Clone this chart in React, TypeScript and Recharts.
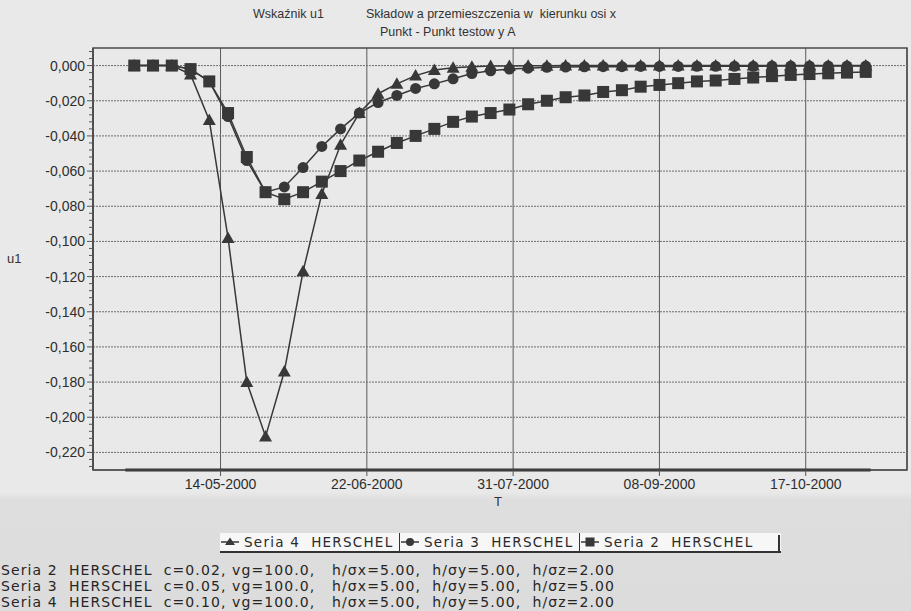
import React from 'react';
import {
  LineChart,
  Line,
  XAxis,
  YAxis,
  CartesianGrid,
  ReferenceLine,
  ReferenceArea,
} from 'recharts';

// sample dates, every 5 days
const pointDates = [
  '21-04-2000', '26-04-2000', '01-05-2000', '06-05-2000', '11-05-2000',
  '16-05-2000', '21-05-2000', '26-05-2000', '31-05-2000', '05-06-2000',
  '10-06-2000', '15-06-2000', '20-06-2000', '25-06-2000', '30-06-2000',
  '05-07-2000', '10-07-2000', '15-07-2000', '20-07-2000', '25-07-2000',
  '30-07-2000', '04-08-2000', '09-08-2000', '14-08-2000', '19-08-2000',
  '24-08-2000', '29-08-2000', '03-09-2000', '08-09-2000', '13-09-2000',
  '18-09-2000', '23-09-2000', '28-09-2000', '03-10-2000', '08-10-2000',
  '13-10-2000', '18-10-2000', '23-10-2000', '28-10-2000', '02-11-2000',
];

// Seria 2 HERSCHEL (squares)
const seria2 = [
  0, 0, 0, -0.002, -0.009, -0.027, -0.052, -0.072, -0.076, -0.072,
  -0.066, -0.06, -0.054, -0.049, -0.044, -0.04, -0.036, -0.032, -0.029, -0.027,
  -0.025, -0.022, -0.02, -0.018, -0.017, -0.015, -0.014, -0.012, -0.011, -0.01,
  -0.009, -0.0085, -0.0076, -0.0068, -0.006, -0.0053, -0.0048, -0.0044, -0.004, -0.0036,
];

// Seria 3 HERSCHEL (circles)
const seria3 = [
  0, 0, 0, -0.002, -0.009, -0.029, -0.054, -0.072, -0.069, -0.058,
  -0.046, -0.036, -0.027, -0.021, -0.017, -0.013, -0.0104, -0.0075, -0.0045, -0.003,
  -0.002, -0.0015, -0.001, -0.0008, -0.0007, -0.0006, -0.0006, -0.0005, -0.0005, -0.0005,
  -0.0004, -0.0004, -0.0004, -0.0004, -0.0003, -0.0003, -0.0003, -0.0003, -0.0003, -0.0003,
];

// Seria 4 HERSCHEL (triangles)
const seria4 = [
  0, 0, 0, -0.005, -0.031, -0.098, -0.18, -0.211, -0.174, -0.117,
  -0.073, -0.045, -0.027, -0.016, -0.0104, -0.0057, -0.0025, -0.0013, -0.0006, -0.0003,
  -0.0002, -0.0001, -0.0001, 0, 0, 0, 0, 0, 0, 0,
  0, 0, 0, 0, 0, 0, 0, 0, 0, 0,
];

const xTickLabels = ['14-05-2000', '22-06-2000', '31-07-2000', '08-09-2000', '17-10-2000'];
const yTicks = [0, -0.02, -0.04, -0.06, -0.08, -0.1, -0.12, -0.14, -0.16, -0.18, -0.2, -0.22];

const noteLines = [
  'Seria 2  HERSCHEL  c=0.02, vg=100.0,   h/σx=5.00,  h/σy=5.00,  h/σz=2.00',
  'Seria 3  HERSCHEL  c=0.05, vg=100.0,   h/σx=5.00,  h/σy=5.00,  h/σz=5.00',
  'Seria 4  HERSCHEL  c=0.10, vg=100.0,   h/σx=5.00,  h/σy=5.00,  h/σz=2.00',
];

const BASE = Date.UTC(2000, 4, 14);
const dayOf = (s: string) => {
  const [d, m, y] = s.split('-').map(Number);
  return (Date.UTC(y, m - 1, d) - BASE) / 86400000;
};

const data = pointDates.map((d, i) => ({
  t: dayOf(d),
  s2: seria2[i],
  s3: seria3[i],
  s4: seria4[i],
}));

const xTicks = xTickLabels.map(dayOf);
const labelOf: Record<number, string> = {};
xTickLabels.forEach((l) => (labelOf[dayOf(l)] = l));

const X_DOMAIN = [-34, 183];
const Y_DOMAIN = [-0.23, 0.01];

// minor ticks on the value axis every 0.004
const minorTicks: number[] = [];
for (let i = 2; i >= -57; i--) minorTicks.push(Math.round(i * 0.004 * 1000) / 1000);

const INK = '#383838';
const AXIS_FONT = '"Liberation Sans", Arial, sans-serif';
const NOTE_FONT = '"DejaVu Sans", Verdana, sans-serif';

const fmt = (v: number) => v.toFixed(3).replace('.', ',').replace('-0,000', '0,000');

const SquareDot = (p: any) => {
  if (p.cx == null || p.cy == null) return <g key={p.key} />;
  return <rect key={p.key} x={p.cx - 6} y={p.cy - 6} width={12} height={12} fill={INK} />;
};
const CircleDot = (p: any) => {
  if (p.cx == null || p.cy == null) return <g key={p.key} />;
  return <circle key={p.key} cx={p.cx} cy={p.cy} r={5.5} fill={INK} />;
};
const TriangleDot = (p: any) => {
  if (p.cx == null || p.cy == null) return <g key={p.key} />;
  const { cx, cy } = p;
  return (
    <polygon
      key={p.key}
      points={`${cx},${cy - 6.5} ${cx + 6.5},${cy + 5} ${cx - 6.5},${cy + 5}`}
      fill={INK}
    />
  );
};

const YTick = (p: any) => {
  const { x, y, payload } = p;
  const v = payload.value;
  const major = Math.abs(v / 0.02 - Math.round(v / 0.02)) < 1e-6;
  return (
    <g>
      <line x1={x - (major ? 6 : 4)} x2={x} y1={y} y2={y} stroke="#555" strokeWidth={1} />
      {major && (
        <text
          x={x - 8}
          y={y}
          dy={5}
          textAnchor="end"
          fontFamily={AXIS_FONT}
          fontSize={14}
          fill="#2e2e2e"
        >
          {fmt(v)}
        </text>
      )}
    </g>
  );
};

const LegendGlyph = ({ kind }: { kind: 'tri' | 'circ' | 'sq' }) => (
  <svg width={20} height={12} style={{ display: 'block' }}>
    <line x1={1} x2={19} y1={6} y2={6} stroke={INK} strokeWidth={1.5} />
    {kind === 'tri' && <polygon points="10,1.5 15,9 5,9" fill={INK} />}
    {kind === 'circ' && <circle cx={10} cy={6} r={4} fill={INK} />}
    {kind === 'sq' && <rect x={5.5} y={1.5} width={9} height={9} fill={INK} />}
  </svg>
);

const legendItems: { kind: 'tri' | 'circ' | 'sq'; name: string }[] = [
  { kind: 'tri', name: 'Seria 4  HERSCHEL' },
  { kind: 'circ', name: 'Seria 3  HERSCHEL' },
  { kind: 'sq', name: 'Seria 2  HERSCHEL' },
];

export default function App() {
  const textStyle: React.CSSProperties = {
    position: 'absolute',
    fontFamily: AXIS_FONT,
    color: '#333',
    whiteSpace: 'pre',
    lineHeight: 1,
  };

  return (
    <div
      style={{
        position: 'absolute',
        left: 0,
        top: 0,
        width: 911,
        height: 611,
        overflow: 'hidden',
        background: 'linear-gradient(#e9e9e9 0px, #e9e9e9 492px, #dedede 500px, #dcdcdc 611px)',
      }}
    >
      <LineChart
        width={911}
        height={611}
        data={data}
        margin={{ top: 48, right: 4, bottom: 0, left: 0 }}
      >
        <CartesianGrid horizontal={false} stroke="#5a5a5a" strokeWidth={1} />
        {yTicks.map((v) => (
          <ReferenceLine
            key={v}
            y={v}
            stroke="#6e6e6e"
            strokeDasharray="2 1"
            strokeWidth={1}
          />
        ))}
        <ReferenceArea
          x1={X_DOMAIN[0]}
          x2={X_DOMAIN[1]}
          y1={Y_DOMAIN[0]}
          y2={Y_DOMAIN[1]}
          fill="none"
          fillOpacity={0}
          stroke="#4a4a4a"
          strokeWidth={1.5}
        />
        <ReferenceLine
          segment={[
            { x: data[0].t - 2.4, y: Y_DOMAIN[0] },
            { x: data[data.length - 1].t + 1.3, y: Y_DOMAIN[0] },
          ]}
          stroke="#333"
          strokeWidth={3}
        />
        <XAxis
          type="number"
          dataKey="t"
          domain={X_DOMAIN}
          ticks={xTicks}
          interval={0}
          allowDataOverflow
          height={141}
          tickSize={6}
          tickMargin={3}
          tickFormatter={(v: number) => labelOf[v] ?? ''}
          axisLine={{ stroke: '#4a4a4a' }}
          tickLine={{ stroke: '#555' }}
          tick={{ fontFamily: AXIS_FONT, fontSize: 14, fill: '#2e2e2e' }}
        />
        <YAxis
          type="number"
          domain={Y_DOMAIN}
          ticks={minorTicks}
          interval={0}
          allowDataOverflow
          width={93}
          tickSize={0}
          tickMargin={0}
          tickLine={false}
          axisLine={{ stroke: '#4a4a4a', strokeWidth: 1.5 }}
          tick={<YTick />}
        />
        <Line
          type="linear"
          dataKey="s2"
          stroke={INK}
          strokeWidth={1.5}
          dot={SquareDot}
          activeDot={false}
          isAnimationActive={false}
        />
        <Line
          type="linear"
          dataKey="s3"
          stroke={INK}
          strokeWidth={1.5}
          dot={CircleDot}
          activeDot={false}
          isAnimationActive={false}
        />
        <Line
          type="linear"
          dataKey="s4"
          stroke={INK}
          strokeWidth={1.5}
          dot={TriangleDot}
          activeDot={false}
          isAnimationActive={false}
        />
      </LineChart>

      {/* titles */}
      <div style={{ ...textStyle, left: 253, top: 8, fontSize: 12.5 }}>Wskaźnik u1</div>
      <div style={{ ...textStyle, left: 366, top: 8, fontSize: 12.5 }}>
        Składow a przemieszczenia w  kierunku osi x
      </div>
      <div style={{ ...textStyle, left: 380, top: 26, fontSize: 12.5 }}>Punkt - Punkt testow y A</div>

      {/* axis titles */}
      <div style={{ ...textStyle, left: 7, top: 252, fontSize: 13 }}>u1</div>
      <div style={{ ...textStyle, left: 494, top: 495, fontSize: 13 }}>T</div>

      {/* legend */}
      <div
        style={{
          position: 'absolute',
          left: 220,
          top: 533,
          width: 561,
          height: 18,
          background: '#f7f7f7',
          borderBottom: '2.5px solid #333',
          display: 'flex',
          alignItems: 'center',
        }}
      >
        {legendItems.map((it, i) => (
          <div
            key={it.name}
            style={{
              display: 'flex',
              alignItems: 'center',
              height: 18,
              width: i === 2 ? 200 : 180,
              borderRight: i < 2 ? '1.5px solid #333' : 'none',
              boxSizing: 'border-box',
            }}
          >
            <LegendGlyph kind={it.kind} />
            <span
              style={{
                marginLeft: 4,
                fontFamily: NOTE_FONT,
                fontSize: 13.5,
                letterSpacing: 1.25,
                color: '#2a2a2a',
                whiteSpace: 'pre',
              }}
            >
              {it.name}
            </span>
          </div>
        ))}
        <div
          style={{
            position: 'absolute',
            right: 1,
            top: 2,
            width: 2.5,
            height: 18,
            background: '#333',
          }}
        />
      </div>

      {/* parameter notes */}
      {noteLines.map((line, i) => (
        <div
          key={line}
          style={{
            position: 'absolute',
            left: 1,
            top: 563 + i * 16,
            fontFamily: NOTE_FONT,
            fontSize: 14,
            letterSpacing: 1.1,
            color: '#262626',
            whiteSpace: 'pre',
            lineHeight: 1,
          }}
        >
          {line}
        </div>
      ))}
    </div>
  );
}
